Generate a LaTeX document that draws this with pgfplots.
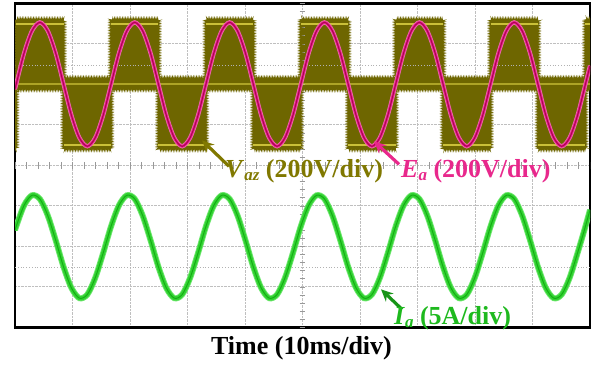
\documentclass[border=0pt]{standalone}
\usepackage{pgfplots}
\pgfplotsset{compat=1.18}
\usepackage{pgfplotstable}
\usepackage{fontspec}
\setmainfont{Liberation Serif}
\usepgfplotslibrary{fillbetween}
\usetikzlibrary{arrows.meta,decorations.pathmorphing}

\definecolor{vazfill}{RGB}{110,102,0}
\definecolor{vazline}{RGB}{225,215,70}
\definecolor{vaztext}{RGB}{128,120,0}
\definecolor{eacol}{RGB}{232,40,140}
\definecolor{ealight}{RGB}{240,110,180}
\definecolor{eadark}{RGB}{175,0,85}
\definecolor{iacol}{RGB}{50,210,50}
\definecolor{ialight}{RGB}{110,230,110}
\definecolor{iadark}{RGB}{0,150,0}
\definecolor{iatext}{RGB}{30,185,30}

\pgfplotstableread{
t ea ia
0 1.88 -1.61
0.2 2.00 -1.51
1.575 2.77 -0.99
2.95 3.32 -0.74
4.325 3.53 -0.83
5.7 3.32 -1.24
7.075 2.77 -1.85
8.45 2.00 -2.51
9.825 1.23 -3.03
11.2 0.68 -3.28
12.575 0.47 -3.19
13.95 0.68 -2.78
15.325 1.23 -2.17
16.7 2.00 -1.51
18.075 2.77 -0.99
19.45 3.32 -0.74
20.825 3.53 -0.83
22.2 3.32 -1.24
23.575 2.77 -1.85
24.95 2.00 -2.51
26.325 1.23 -3.03
27.7 0.68 -3.28
29.075 0.47 -3.19
30.45 0.68 -2.78
31.825 1.23 -2.17
33.2 2.00 -1.51
34.575 2.77 -0.99
35.95 3.32 -0.74
37.325 3.53 -0.83
38.7 3.32 -1.24
40.075 2.77 -1.85
41.45 2.00 -2.51
42.825 1.23 -3.03
44.2 0.68 -3.28
45.575 0.47 -3.19
46.95 0.68 -2.78
48.325 1.23 -2.17
49.7 2.00 -1.51
51.075 2.77 -0.99
52.45 3.32 -0.74
53.825 3.53 -0.83
55.2 3.32 -1.24
56.575 2.77 -1.85
57.95 2.00 -2.51
59.325 1.23 -3.03
60.7 0.68 -3.28
62.075 0.47 -3.19
63.45 0.68 -2.78
64.825 1.23 -2.17
66.2 2.00 -1.51
67.575 2.77 -0.99
68.95 3.32 -0.74
70.325 3.53 -0.83
71.7 3.32 -1.24
73.075 2.77 -1.85
74.45 2.00 -2.51
75.825 1.23 -3.03
77.2 0.68 -3.28
78.575 0.47 -3.19
79.95 0.68 -2.78
81.325 1.23 -2.17
82.7 2.00 -1.51
84.075 2.77 -0.99
85.45 3.32 -0.74
86.825 3.53 -0.83
88.2 3.32 -1.24
89.575 2.77 -1.85
90.95 2.00 -2.51
92.325 1.23 -3.03
93.7 0.68 -3.28
95.075 0.47 -3.19
96.45 0.68 -2.78
97.825 1.23 -2.17
99.2 2.00 -1.51
100 2.46 -1.10
}\wave

\pgfplotstableread{
t up lo
0 2.15 0.40
0.2 3.60 1.88
8.45 2.15 0.40
16.7 3.60 1.88
24.95 2.15 0.40
33.2 3.60 1.88
41.45 2.15 0.40
49.7 3.60 1.88
57.95 2.15 0.40
66.2 3.60 1.88
74.45 2.15 0.40
82.7 3.60 1.88
90.95 2.15 0.40
99.2 3.60 1.88
100 3.60 1.88
}\vaz

\begin{document}
\begin{tikzpicture}
\begin{axis}[
  at={(15pt,39pt)}, anchor=south west,
  width=575pt, height=324pt, scale only axis,
  xmin=0, xmax=100, ymin=-4, ymax=4,
  xtick={0,10,...,100}, ytick={-4,-3,...,4},
  xticklabels={}, yticklabels={},
  major tick length=0pt,
  grid=major,
  grid style={densely dotted, black!25, line width=0.7pt},
  axis line style={black, line width=2.6pt},
]
% center cross ticks and channel reference dots
\draw[black!30, dotted, line width=0.8pt] (axis cs:0,2.47) -- (axis cs:100,2.47);
\draw[black!30, dotted, line width=0.8pt] (axis cs:0,-2.52) -- (axis cs:100,-2.52);
\pgfplotsinvokeforeach{0,2,...,100}{\draw[black!40, line width=0.6pt] (axis cs:#1,-0.08) -- (axis cs:#1,0.08);}
\pgfplotsinvokeforeach{-4,-3.8,...,4}{\draw[black!40, line width=0.6pt] (axis cs:49.5,#1) -- (axis cs:50.5,#1);}

% Vaz switched voltage band
\addplot[name path=vu, const plot, draw=none, forget plot] table[x=t,y=up] {\vaz};
\addplot[name path=vl, const plot, draw=none, forget plot] table[x=t,y=lo] {\vaz};
\addplot[vazfill, forget plot] fill between[of=vu and vl];
\addplot[const plot, draw=vazfill, line width=0.7pt, decorate,
  decoration={zigzag, segment length=1.6pt, amplitude=1.8pt}] table[x=t,y=up] {\vaz};
\addplot[const plot, draw=vazfill, line width=0.7pt, decorate,
  decoration={zigzag, segment length=1.6pt, amplitude=1.8pt}] table[x=t,y=lo] {\vaz};
% bright level lines
\addplot[vazline, line width=2pt, opacity=0.8, unbounded coords=jump] coordinates {
 (0.2,3.5) (8.45,3.5) (8.45,nan) (16.7,3.5) (24.95,3.5) (24.95,nan)
 (33.2,3.5) (41.45,3.5) (41.45,nan) (49.7,3.5) (57.95,3.5) (57.95,nan)
 (66.2,3.5) (74.45,3.5) (74.45,nan) (82.7,3.5) (90.95,3.5) (90.95,nan) (99.2,3.5) (100,3.5)};
\addplot[vazline, line width=2pt, opacity=0.55] coordinates {(0.2,2.02) (100,2.02)};
\addplot[vazline, line width=2pt, opacity=0.8, unbounded coords=jump] coordinates {
 (8.45,0.49) (16.7,0.49) (16.7,nan) (24.95,0.49) (33.2,0.49) (33.2,nan)
 (41.45,0.49) (49.7,0.49) (49.7,nan) (57.95,0.49) (66.2,0.49) (66.2,nan)
 (74.45,0.49) (82.7,0.49) (82.7,nan) (90.95,0.49) (99.2,0.49)};

% Ea
\addplot[ealight, line width=4.2pt, smooth] table[x=t,y=ea] {\wave};
\addplot[eacol, line width=2.8pt, smooth] table[x=t,y=ea] {\wave};
\addplot[eadark, line width=1.1pt, smooth] table[x=t,y=ea] {\wave};
% Ia
\addplot[ialight, line width=6pt, smooth] table[x=t,y=ia] {\wave};
\addplot[iacol, line width=4.2pt, smooth] table[x=t,y=ia] {\wave};
\addplot[iadark, line width=1pt, smooth, opacity=0.6] table[x=t,y=ia] {\wave};
\end{axis}

% labels and arrows (picture coordinates)
\draw[vaztext, line width=3.2pt, -{Stealth[length=12pt,width=11pt]}] (229pt,200pt) -- (202pt,226pt);
\draw[eacol, line width=3.2pt, -{Stealth[length=12pt,width=11pt]}] (399pt,202pt) -- (374pt,225pt);
\draw[iatext!80!black, line width=3.2pt, -{Stealth[length=12pt,width=11pt]}] (402pt,57pt) -- (381pt,77pt);

\node[anchor=base west, inner sep=0pt, text=vaztext, font=\fontsize{26}{30}\selectfont\bfseries] at (225pt,189pt)
  {\textit{V}\raisebox{-0.25ex}{\fontsize{17}{20}\selectfont\textit{az}} (200V/div)};
\node[anchor=base west, inner sep=0pt, text=eacol, font=\fontsize{26}{30}\selectfont\bfseries] at (401pt,189pt)
  {\textit{E}\raisebox{-0.25ex}{\fontsize{17}{20}\selectfont\textit{a}} (200V/div)};
\node[anchor=base west, inner sep=0pt, text=iatext, font=\fontsize{26}{30}\selectfont\bfseries] at (394pt,42pt)
  {\textit{I}\raisebox{-0.25ex}{\fontsize{17}{20}\selectfont\textit{a}} (5A/div)};
\node[anchor=base, inner sep=0pt, text=black, font=\fontsize{26}{30}\selectfont\bfseries] at (301.5pt,12pt)
  {Time (10ms/div)};
\path (0,0) rectangle (597pt,364pt);
\end{tikzpicture}
\end{document}
